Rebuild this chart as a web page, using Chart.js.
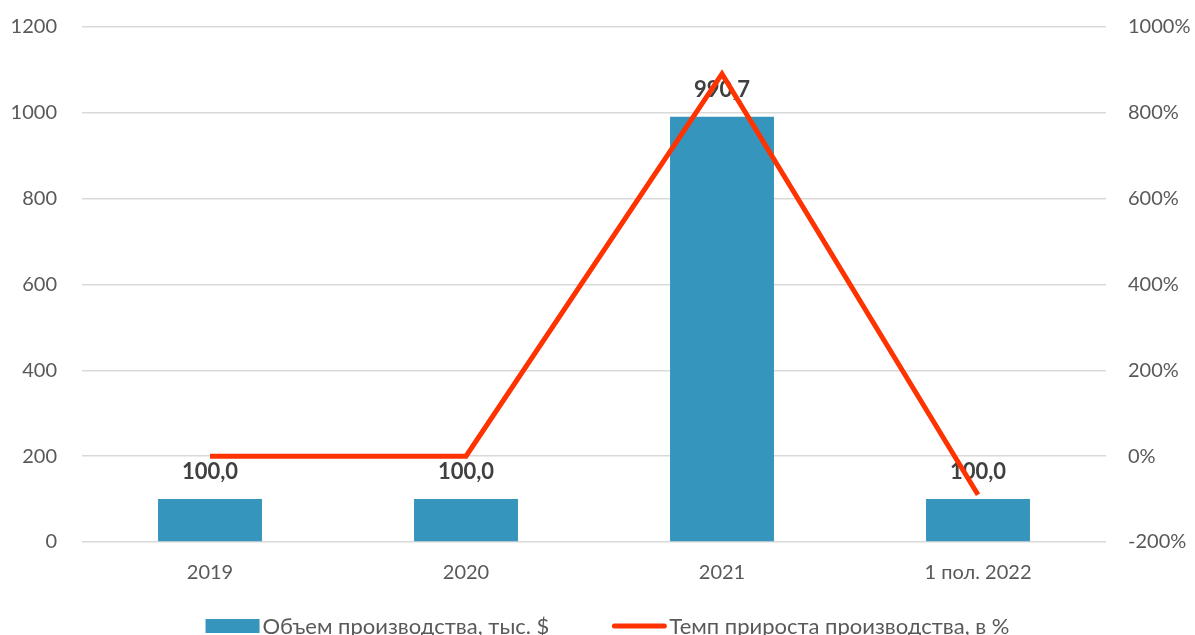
<!DOCTYPE html>
<html>
<head>
<meta charset="utf-8">
<script src="https://cdn.jsdelivr.net/npm/chart.js@4"></script>
<style>
  html, body { margin: 0; padding: 0; background: #fff; }
  #wrap { width: 1195px; height: 635px; }
</style>
</head>
<body>
<div id="wrap"><canvas id="chart"></canvas></div>
<script>
const categories = ['2019', '2020', '2021', '1 пол. 2022'];
const volume = [100.0, 100.0, 990.7, 100.0];
const growth = [0, 0, 890.7, -89.9];
const leftTicks = [0, 200, 400, 600, 800, 1000, 1200];
const rightTicks = [-200, 0, 200, 400, 600, 800, 1000];

const FONT = 'Lato, "Noto Sans", sans-serif';

//labels above bars, drawn before the line goes on top
const barLabels = {
    id: 'barLabels',
    afterDatasetDraw(chart, args) {
        if (args.index !== 0) return;
        const ctx = chart.ctx;
        ctx.save();
        ctx.font = 'bold 22px ' + FONT;
        ctx.fillStyle = '#404040';
        ctx.textAlign = 'center';
        ctx.textBaseline = 'middle';
        args.meta.data.forEach(function(bar, i){
            ctx.fillText(volume[i].toFixed(1).replace('.', ','), bar.x, bar.y - 27);
        });
        ctx.restore();
    }
};

//excel-like legend: swatch, small gap, text, wide gap between items
const bottomLegend = {
    id: 'bottomLegend',
    afterDraw(chart) {
        const ctx = chart.ctx;
        const y = 626;
        const sw = 54, gapText = 3, gapItem = 63;
        ctx.save();
        ctx.font = '22px ' + FONT;
        ctx.textBaseline = 'middle';
        ctx.fillStyle = '#595959';
        const ds = chart.data.datasets;
        const widths = ds.map(d => sw + gapText + ctx.measureText(d.label).width);
        const total = widths[0] + gapItem + widths[1];
        let x = chart.width / 2 + 10 - total / 2;
        ds.forEach(function(d, i){
            if (d.type === 'bar') {
                ctx.fillStyle = d.backgroundColor;
                ctx.fillRect(x, y - 7, sw, 14);
            } else {
                ctx.strokeStyle = d.borderColor;
                ctx.lineWidth = d.borderWidth;
                ctx.lineCap = 'round';
                ctx.beginPath();
                ctx.moveTo(x + 2, y);
                ctx.lineTo(x + sw - 2, y);
                ctx.stroke();
            }
            ctx.fillStyle = '#595959';
            ctx.fillText(d.label, x + sw + gapText, y + 1);
            x += widths[i] + gapItem;
        });
        ctx.restore();
    }
};

//fixed axis size, and no extra padding from tick labels
function fixY(width){
    return function(s){
        s.width = width;
        s.paddingTop = 0;
        s.paddingBottom = 0;
    };
}

new Chart(document.getElementById('chart'), {
    data: {
        labels: categories,
        datasets: [{
            type: 'bar',
            label: 'Объем производства, тыс. $',
            data: volume,
            backgroundColor: '#3595bc',
            yAxisID: 'y',
            order: 2,
            categoryPercentage: 1,
            barPercentage: 0.406
        }, {
            type: 'line',
            label: 'Темп прироста производства, в %',
            data: growth,
            borderColor: '#ff3300',
            backgroundColor: '#ff3300',
            borderWidth: 5,
            pointRadius: 0,
            tension: 0,
            yAxisID: 'y1',
            order: 1
        }]
    },
    options: {
        responsive: true,
        maintainAspectRatio: false,
        animation: false,
        layout: { padding: { top: 27, left: 0, right: 0, bottom: 36 } },
        plugins: {
            tooltip: { enabled: false },
            legend: { display: false }
        },
        scales: {
            x: {
                grid: { display: false },
                border: { display: false },
                ticks: { color: '#595959', padding: 11, font: { family: FONT, size: 20 } },
                afterFit: function(s){ s.height = 57; }
            },
            y: {
                position: 'left',
                min: 0, max: 1200,
                afterBuildTicks: function(s){ s.ticks = leftTicks.map(v => ({ value: v })); },
                grid: { color: '#d9d9d9', lineWidth: 1.5, drawTicks: false },
                border: { display: false },
                ticks: {
                    color: '#595959', padding: 25, font: { family: FONT, size: 20 },
                    callback: function(v){ return String(v); }
                },
                afterFit: fixY(82)
            },
            y1: {
                position: 'right',
                min: -200, max: 1000,
                afterBuildTicks: function(s){ s.ticks = rightTicks.map(v => ({ value: v })); },
                grid: { display: false, drawTicks: false },
                border: { display: false },
                ticks: {
                    color: '#595959', padding: 22, font: { family: FONT, size: 20 },
                    callback: function(v){ return v + '%'; }
                },
                afterFit: fixY(89)
            }
        }
    },
    plugins: [barLabels, bottomLegend]
});
</script>
</body>
</html>
